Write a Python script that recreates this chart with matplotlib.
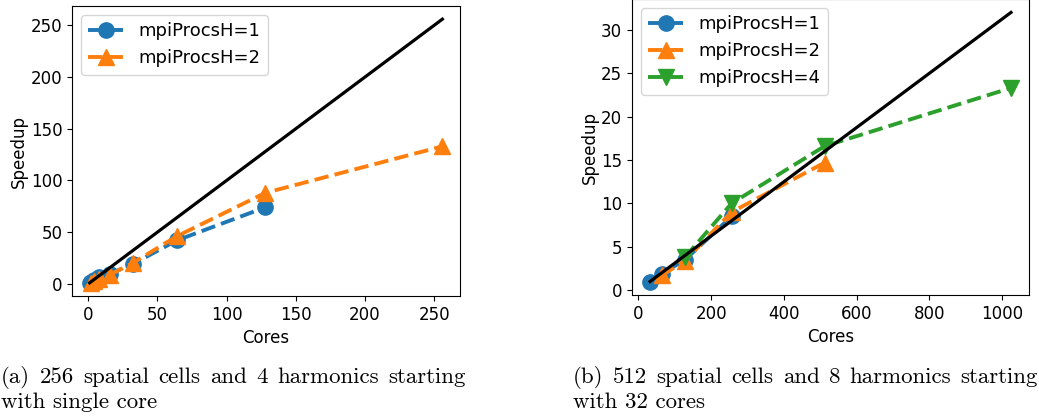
import matplotlib.pyplot as plt

# (a) 256 spatial cells, 4 harmonics
cores_a1 = [1, 2, 4, 8, 16, 32, 64, 128]
speedup_a1 = [1, 1.9, 3.6, 6.5, 10, 19, 42, 74]
cores_a2 = [2, 4, 8, 16, 32, 64, 128, 256]
speedup_a2 = [1, 2.6, 5, 9, 20, 46, 88, 133]
ideal_a = [1, 256]

# (b) 512 spatial cells, 8 harmonics
cores_b1 = [32, 64, 128, 256]
speedup_b1 = [1, 1.9, 3.5, 8.5]
cores_b2 = [64, 128, 256, 512]
speedup_b2 = [1.7, 3.4, 9.0, 14.7]
cores_b4 = [128, 256, 512, 1024]
speedup_b4 = [3.8, 10.0, 16.6, 23.3]
ideal_b = [32, 1024]

cap_a = ["(a) 256 spatial cells and 4 harmonics starting", "with single core"]
cap_b = ["(b) 512 spatial cells and 8 harmonics starting", "with 32 cores"]

plt.rcParams['font.size'] = 12
plt.rcParams['legend.fontsize'] = 13
W, H = 1039, 417
fig = plt.figure(figsize=(W / 100, H / 100), dpi=100)

ax1 = fig.add_axes([72 / W, 1 - 296 / H, 388 / W, 290 / H])
ax2 = fig.add_axes([632 / W, 1 - 295 / H, 397 / W, 296 / H])

kw = dict(linestyle='--', linewidth=2.8, markersize=11)

ax1.plot(cores_a1, speedup_a1, marker='o', color='#1f77b4', label='mpiProcsH=1', **kw)
ax1.plot(cores_a2, speedup_a2, marker='^', color='#ff7f0e', label='mpiProcsH=2', **kw)
ax1.plot(ideal_a, ideal_a, color='black', linewidth=2.3)

ax2.plot(cores_b1, speedup_b1, marker='o', color='#1f77b4', label='mpiProcsH=1', **kw)
ax2.plot(cores_b2, speedup_b2, marker='^', color='#ff7f0e', label='mpiProcsH=2', **kw)
ax2.plot(cores_b4, speedup_b4, marker='v', color='#2ca02c', label='mpiProcsH=4', **kw)
ax2.plot(ideal_b, [c / 32 for c in ideal_b], color='black', linewidth=2.3)

for ax in (ax1, ax2):
    ax.set_xlabel('Cores')
    ax.set_ylabel('Speedup', labelpad=2)
    ax.legend(loc='upper left')

ax1.set_yticks([0, 50, 100, 150, 200, 250])
ax2.set_yticks([0, 5, 10, 15, 20, 25, 30])


def caption(lines, x0, x1, y0, dy=25, size=16.5):
    # first line justified between x0 and x1 like the LaTeX caption
    renderer = fig.canvas.get_renderer()
    words = lines[0].split()
    texts = [fig.text(0, 0, w, fontname='cmr10', fontsize=size, va='baseline') for w in words]
    widths = [t.get_window_extent(renderer).width for t in texts]
    gap = (x1 - x0 - sum(widths)) / (len(words) - 1)
    x = x0
    for t, w in zip(texts, widths):
        t.set_position((x / W, 1 - y0 / H))
        x += w + gap
    for i, line in enumerate(lines[1:], 1):
        fig.text(x0 / W, 1 - (y0 + dy * i) / H, line, fontname='cmr10', fontsize=size, va='baseline')


caption(cap_a, 1, 466, 383)
caption(cap_b, 573, 1038, 383)

fig.savefig('out.png', dpi=100)
